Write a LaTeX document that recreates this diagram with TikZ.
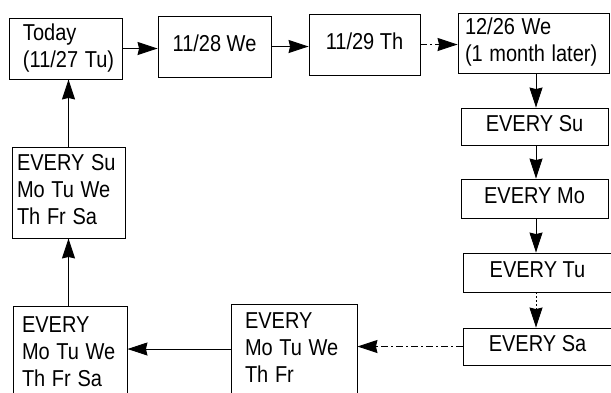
\documentclass[tikz,border=0pt]{standalone}
\usepackage{fontspec}
\setmainfont{Liberation Sans}
\usepackage{graphicx}
\usetikzlibrary{arrows.meta}
\newcommand\boxtext[1]{\scalebox{1}[1.15]{\begin{tabular}{@{}l@{}}#1\end{tabular}}}
\tikzset{
  box/.style={draw, line width=0.9pt, inner ysep=0pt, font=\fontsize{20}{23.5}\selectfont},
  lbox/.style={box, align=left},
  arr/.style={line width=0.9pt, -{Stealth[length=20pt,width=13pt,inset=1.5pt]}},
  dashdot/.style={dash pattern=on 7pt off 3pt on 2pt off 3pt},
  dotline/.style={dash pattern=on 2pt off 2pt}
}
\begin{document}
\begin{tikzpicture}[x=1pt,y=-1pt]
\useasboundingbox (0,0) rectangle (611,392);
\fill[white] (0,0) rectangle (611,392);
\clip (0,0) rectangle (611,392);
% top row
\node[lbox, inner xsep=14pt, text width=85pt, minimum width=113pt, minimum height=61pt] (today) at (65.5,48.5) {\boxtext{Today\\(11/27 Tu)}};
\node[box, minimum width=113pt, minimum height=61pt] (d1128) at (214.5,46.5) {\boxtext{11/28 We}};
\node[box, minimum width=111pt, minimum height=61pt] (d1129) at (364.5,44.5) {\boxtext{11/29 Th}};
\node[lbox, inner xsep=7pt, text width=137pt, minimum width=151pt, minimum height=60pt] (d1226) at (533.5,43) {\boxtext{12/26 We\\(1 month later)}};
% right column
\node[box, minimum width=147pt, minimum height=37pt] (su) at (534.5,126.5) {\boxtext{EVERY Su}};
\node[box, minimum width=147pt, minimum height=39pt] (mo) at (534.5,198.5) {\boxtext{EVERY Mo}};
\node[box, minimum width=149pt, minimum height=39pt] (tu) at (537.5,272.5) {\boxtext{EVERY Tu}};
\node[box, minimum width=149pt, minimum height=37pt] (sa) at (537.5,346.5) {\boxtext{EVERY Sa}};
% bottom row
\node[lbox, inner xsep=14pt, text width=98pt, minimum width=126pt, minimum height=93pt] (mid) at (294,350.5) {\boxtext{EVERY\\Mo Tu We\\Th Fr}};
\node[lbox, inner xsep=9pt, text width=96pt, minimum width=114pt, minimum height=97pt] (lbot) at (70,354.5) {\boxtext{EVERY\\Mo Tu We\\Th Fr Sa}};
% left column
\node[lbox, inner xsep=5pt, text width=103pt, minimum width=113pt, minimum height=91pt] (lmid) at (68.5,192.5) {\boxtext{EVERY Su\\Mo Tu We\\Th Fr Sa}};
% helper coordinates
\coordinate (rx) at (536,0);
\coordinate (lx) at (68.5,0);
\coordinate (ly) at (0,349);
% connectors
\draw[arr] (today.east) -- (today.east -| d1128.west);
\draw[arr] (d1128.east) -- (d1128.east -| d1129.west);
\draw[arr, dashdot] (d1129.east) -- (d1129.east -| d1226.west);
\draw[arr] (rx |- d1226.south) -- (rx |- su.north);
\draw[arr] (rx |- su.south) -- (rx |- mo.north);
\draw[arr] (rx |- mo.south) -- (rx |- tu.north);
\draw[arr, dotline] (rx |- tu.south) -- (rx |- sa.north);
\draw[arr, dashdot] (sa.west) -- (sa.west -| mid.east);
\draw[arr] (mid.west |- ly) -- (lbot.east |- ly);
\draw[arr] (lx |- lbot.north) -- (lx |- lmid.south);
\draw[arr] (lx |- lmid.north) -- (lx |- today.south);
\end{tikzpicture}
\end{document}
